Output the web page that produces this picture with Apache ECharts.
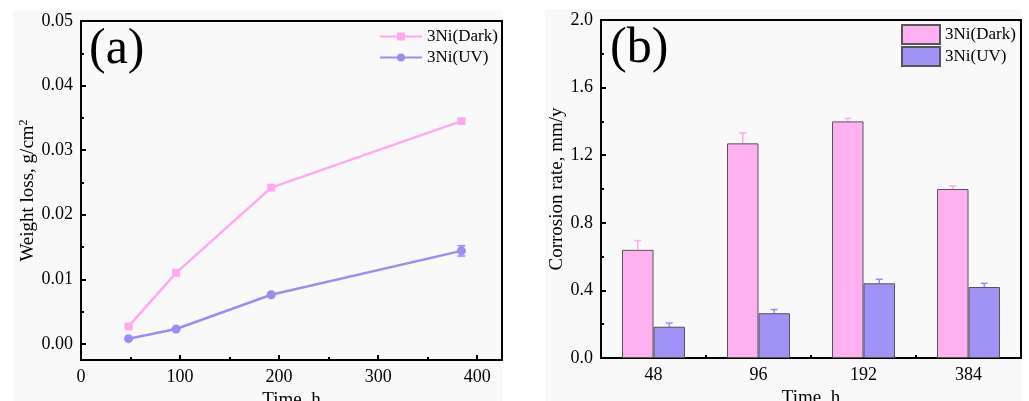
<!DOCTYPE html>
<html>
<head>
<meta charset="utf-8">
<script src="https://cdn.jsdelivr.net/npm/echarts@6/dist/echarts.min.js"></script>
<style>
html,body{margin:0;padding:0;background:#fff;}
#chart{width:1029px;height:401px;}
</style>
</head>
<body>
<div id="chart"></div>
<script>
// ---- data: panel (a) weight loss ----
const timeHours = [48, 96, 192, 384];
const darkWeightLoss = [0.0027, 0.0110, 0.0242, 0.0345];
const darkWeightLossErr = [0.0002, 0.0003, 0.0002, 0.0003];
const uvWeightLoss = [0.0008, 0.0023, 0.0076, 0.0144];
const uvWeightLossErr = [0.0001, 0.0002, 0.0002, 0.0008];
const leftYTicks = [0, 0.01, 0.02, 0.03, 0.04, 0.05];
const leftYMinorTicks = [0.005, 0.015, 0.025, 0.035, 0.045];
const leftXTicks = [0, 100, 200, 300, 400];
const leftXMinorTicks = [50, 150, 250, 350];

// ---- data: panel (b) corrosion rate ----
const categories = ['48', '96', '192', '384'];
const darkCorrosion = [0.64, 1.27, 1.40, 1.00];
const darkCorrosionErr = [0.055, 0.062, 0.018, 0.018];
const uvCorrosion = [0.185, 0.265, 0.442, 0.420];
const uvCorrosionErr = [0.022, 0.022, 0.024, 0.022];

const seriesNames = ['3Ni(Dark)', '3Ni(UV)'];

const FONT = 'Liberation Serif';
const PINK = '#ffb0f0';
const PURPLE = '#a092f6';
const PINK_LINE = '#ffaaee';
const PURPLE_LINE = '#9a8ef4';

const chart = echarts.init(document.getElementById('chart'));

function lineErr(params, api) {
  const x = api.value(0), y = api.value(1), e = api.value(2);
  const top = api.coord([x, y + e]);
  const bot = api.coord([x, y - e]);
  const col = api.visual('color');
  const w = 4;
  return {
    type: 'group',
    children: [
      {type: 'line', shape: {x1: top[0], y1: top[1], x2: bot[0], y2: bot[1]}, style: {stroke: col, lineWidth: 1.5}},
      {type: 'line', shape: {x1: top[0] - w, y1: top[1], x2: top[0] + w, y2: top[1]}, style: {stroke: col, lineWidth: 1.5}},
      {type: 'line', shape: {x1: bot[0] - w, y1: bot[1], x2: bot[0] + w, y2: bot[1]}, style: {stroke: col, lineWidth: 1.5}}
    ]
  };
}
function barErr(side) {
  return function (params, api) {
    const c = api.value(0), y = api.value(1), e = api.value(2);
    const band = api.size([1, 0])[0];
    const base = api.coord([c, y]);
    const top = api.coord([c, y + e]);
    const x = base[0] + side * band * 0.15;
    const col = api.visual('color');
    const w = 3.5;
    return {
      type: 'group',
      children: [
        {type: 'line', shape: {x1: x, y1: base[1], x2: x, y2: top[1]}, style: {stroke: col, lineWidth: 1.5}},
        {type: 'line', shape: {x1: x - w, y1: top[1], x2: x + w, y2: top[1]}, style: {stroke: col, lineWidth: 1.5}}
      ]
    };
  };
}

const axisLineStyle = {onZero: false, lineStyle: {color: '#000', width: 2}};
const labelStyle = {color: '#000', fontFamily: FONT, fontSize: 18};
const nameStyle = {color: '#000', fontFamily: FONT, fontSize: 19};

const option = {
  backgroundColor: '#fff',
  animation: false,
  graphic: [
    {type: 'rect', z: -100, silent: true, shape: {x: 13, y: 10, width: 490, height: 391}, style: {fill: '#f9f9f9'}},
    {type: 'rect', z: -100, silent: true, shape: {x: 545, y: 9, width: 477, height: 392}, style: {fill: '#f9f9f9'}}
  ],
  title: [
    {text: '(a)', left: 84, top: 20, textStyle: {fontFamily: FONT, fontSize: 50, fontWeight: 'normal', color: '#000'}},
    {text: '(b)', left: 605, top: 19, textStyle: {fontFamily: FONT, fontSize: 50, fontWeight: 'normal', color: '#000'}}
  ],
  legend: [
    {
      data: seriesNames, orient: 'vertical', left: 379, top: 28, padding: 0,
      itemWidth: 42, itemHeight: 10, itemGap: 4,
      textStyle: {fontFamily: FONT, fontSize: 17, color: '#000'}
    },
    {
      data: seriesNames.map(n => 'bar:' + n), orient: 'vertical', left: 901, top: 24, padding: 0,
      itemWidth: 38, itemHeight: 19, itemGap: 1, icon: 'rect',
      formatter: n => n.replace('bar:', ''),
      textStyle: {fontFamily: FONT, fontSize: 17, color: '#000'}
    }
  ],
  grid: [
    {left: 81, top: 21, width: 421, height: 339, outerBoundsMode: 'none', containLabel: false, show: true, borderColor: '#000', borderWidth: 2, backgroundColor: 'transparent'},
    {left: 601, top: 20, width: 420, height: 338, outerBoundsMode: 'none', containLabel: false, show: true, borderColor: '#000', borderWidth: 2, backgroundColor: 'transparent'}
  ],
  xAxis: [
    {
      gridIndex: 0, type: 'value', min: 0, max: 425, position: 'bottom',
      name: 'Time, h', nameLocation: 'middle', nameGap: 26, nameTextStyle: nameStyle,
      axisLine: axisLineStyle, splitLine: {show: false},
      axisTick: {inside: true, length: 5, customValues: leftXTicks, lineStyle: {color: '#000', width: 2}},
      axisLabel: {customValues: leftXTicks, margin: 8, ...labelStyle}
    },
    {
      gridIndex: 0, type: 'value', min: 0, max: 425, position: 'bottom',
      axisLine: {show: false, onZero: false}, splitLine: {show: false}, axisLabel: {show: false},
      axisTick: {inside: true, length: 3, customValues: leftXMinorTicks, lineStyle: {color: '#000', width: 2}}
    },
    {
      gridIndex: 1, type: 'category', data: categories, position: 'bottom',
      name: 'Time, h', nameLocation: 'middle', nameGap: 27, nameTextStyle: nameStyle,
      axisLine: axisLineStyle, splitLine: {show: false},
      axisTick: {inside: true, length: 5, alignWithLabel: true, lineStyle: {color: '#000', width: 2}},
      axisLabel: {margin: 8, ...labelStyle}
    },
    {
      gridIndex: 1, type: 'value', min: 0, max: 4, position: 'bottom',
      axisLine: {show: false, onZero: false}, splitLine: {show: false}, axisLabel: {show: false},
      axisTick: {inside: true, length: 3, customValues: [1, 2, 3], lineStyle: {color: '#000', width: 2}}
    }
  ],
  yAxis: [
    {
      gridIndex: 0, type: 'value', min: -0.0025, max: 0.05, position: 'left',
      name: 'Weight loss, g/cm{sup|2}', nameLocation: 'middle', nameGap: 42,
      nameTextStyle: {...nameStyle, rich: {sup: {fontFamily: FONT, fontSize: 12, color: '#000', verticalAlign: 'top', padding: [0, 0, 9, 0]}}},
      axisLine: axisLineStyle, splitLine: {show: false},
      axisTick: {inside: true, length: 5, customValues: leftYTicks, lineStyle: {color: '#000', width: 2}},
      axisLabel: {customValues: leftYTicks, formatter: v => v.toFixed(2), margin: 8, ...labelStyle}
    },
    {
      gridIndex: 0, type: 'value', min: -0.0025, max: 0.05, position: 'left',
      axisLine: {show: false, onZero: false}, splitLine: {show: false}, axisLabel: {show: false},
      axisTick: {inside: true, length: 3, customValues: leftYMinorTicks, lineStyle: {color: '#000', width: 2}}
    },
    {
      gridIndex: 1, type: 'value', min: 0, max: 2, interval: 0.4, position: 'left',
      name: 'Corrosion rate, mm/y', nameLocation: 'middle', nameGap: 31, nameTextStyle: nameStyle,
      axisLine: axisLineStyle, splitLine: {show: false},
      axisTick: {inside: true, length: 5, lineStyle: {color: '#000', width: 2}},
      minorTick: {show: true, splitNumber: 2, length: 3, lineStyle: {color: '#000', width: 2}},
      axisLabel: {formatter: v => v.toFixed(1), margin: 8, ...labelStyle}
    }
  ],
  series: [
    {
      name: seriesNames[0], type: 'line', xAxisIndex: 0, yAxisIndex: 0,
      data: timeHours.map((t, i) => [t, darkWeightLoss[i]]),
      symbol: 'rect', symbolSize: 8, color: PINK_LINE, lineStyle: {width: 2.5, color: PINK_LINE}, itemStyle: {color: PINK_LINE}, z: 3
    },
    {
      name: seriesNames[1], type: 'line', xAxisIndex: 0, yAxisIndex: 0,
      data: timeHours.map((t, i) => [t, uvWeightLoss[i]]),
      symbol: 'circle', symbolSize: 9, color: PURPLE_LINE, lineStyle: {width: 2.5, color: PURPLE_LINE}, itemStyle: {color: PURPLE_LINE}, z: 3
    },
    {
      type: 'custom', xAxisIndex: 0, yAxisIndex: 0, color: PINK_LINE, z: 4, silent: true,
      renderItem: lineErr, encode: {x: 0, y: 1},
      data: timeHours.map((t, i) => [t, darkWeightLoss[i], darkWeightLossErr[i]])
    },
    {
      type: 'custom', xAxisIndex: 0, yAxisIndex: 0, color: PURPLE_LINE, z: 4, silent: true,
      renderItem: lineErr, encode: {x: 0, y: 1},
      data: timeHours.map((t, i) => [t, uvWeightLoss[i], uvWeightLossErr[i]])
    },
    {
      name: 'bar:' + seriesNames[0], type: 'bar', xAxisIndex: 2, yAxisIndex: 2,
      data: darkCorrosion, barWidth: '30%', barGap: '0%',
      itemStyle: {color: PINK, borderColor: '#555', borderWidth: 1}
    },
    {
      name: 'bar:' + seriesNames[1], type: 'bar', xAxisIndex: 2, yAxisIndex: 2,
      data: uvCorrosion, barWidth: '30%', barGap: '0%',
      itemStyle: {color: PURPLE, borderColor: '#555', borderWidth: 1}
    },
    {
      type: 'custom', xAxisIndex: 2, yAxisIndex: 2, color: PINK_LINE, z: 1, silent: true,
      renderItem: barErr(-1), encode: {x: 0, y: 1},
      data: categories.map((c, i) => [i, darkCorrosion[i], darkCorrosionErr[i]])
    },
    {
      type: 'custom', xAxisIndex: 2, yAxisIndex: 2, color: PURPLE_LINE, z: 1, silent: true,
      renderItem: barErr(1), encode: {x: 0, y: 1},
      data: categories.map((c, i) => [i, uvCorrosion[i], uvCorrosionErr[i]])
    }
  ]
};
chart.setOption(option);
</script>
</body>
</html>
